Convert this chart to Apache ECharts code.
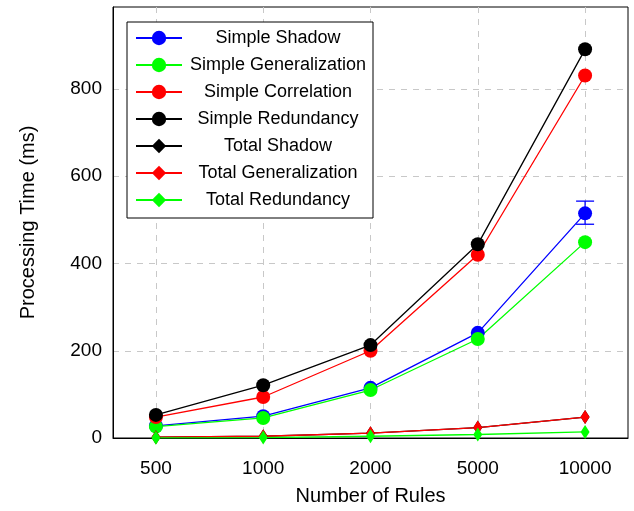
<!DOCTYPE html>
<html>
<head>
<meta charset="utf-8">
<script src="https://cdn.jsdelivr.net/npm/echarts@6/dist/echarts.min.js"></script>
<style>
  html, body { margin: 0; padding: 0; background: #fff; }
  #chart { width: 634px; height: 511px; }
</style>
</head>
<body>
<div id="chart"></div>
<script>
// categories (number of rules)
var rules = ['500', '1000', '2000', '5000', '10000'];

// processing time (ms)
var simpleShadow = [28, 50, 115, 241, 515];
var simpleGeneralization = [26, 46, 110, 227, 449];
var simpleCorrelation = [48, 94, 200, 420, 831];
var simpleRedundancy = [53, 121, 213, 444, 891];
var totalShadow = [2, 4, 11, 24, 48];
var totalGeneralization = [2, 4, 11, 24, 48];
var totalRedundancy = [0.5, 1, 4, 8, 14];

// error bar on Simple Shadow at 10000: [index, low, high]
var shadowErr = [[4, 490, 543]];

function pts(arr) {
    return arr.map(function (v, i) { return [i, v]; });
}

function lineSeries(name, arr, color, symbol, size) {
    return {
        name: name,
        type: 'line',
        data: pts(arr),
        symbol: symbol,
        symbolSize: size,
        showSymbol: true,
        lineStyle: { color: color, width: 1.3 },
        itemStyle: { color: color },
        emphasis: { disabled: true },
        animation: false
    };
}

var chart = echarts.init(document.getElementById('chart'));

var option = {
    animation: false,
    grid: {
        left: 113, right: 6, top: 7, bottom: 73,
        outerBoundsMode: 'none',
        show: true, borderColor: '#000', borderWidth: 1
    },
    legend: {
        data: ['Simple Shadow', 'Simple Generalization', 'Simple Correlation', 'Simple Redundancy',
               'Total Shadow', 'Total Generalization', 'Total Redundancy'],
        orient: 'vertical',
        left: 127, top: 22,
        itemWidth: 46, itemHeight: 18,
        itemGap: 9,
        padding: [7, 4, 9, 8],
        borderColor: '#000', borderWidth: 1,
        backgroundColor: '#fff',
        formatter: function (name) { return '{t|' + name + '}'; },
        textStyle: {
            rich: {
                t: {
                    fontFamily: 'Liberation Sans', fontSize: 18, color: '#000',
                    width: 182, align: 'center', lineHeight: 21
                }
            }
        }
    },
    xAxis: {
        type: 'value',
        min: -0.4, max: 4.4,
        name: 'Number of Rules',
        nameLocation: 'middle',
        nameGap: 48,
        nameTextStyle: { fontFamily: 'Liberation Sans', fontSize: 20, color: '#000' },
        axisLine: { onZero: false, lineStyle: { color: '#000', width: 1 } },
        axisTick: { show: false },
        axisLabel: {
            fontFamily: 'Liberation Sans', fontSize: 19, color: '#000', margin: 21,
            formatter: function (v) {
                return Number.isInteger(v) ? rules[v] : '';
            }
        },
        splitLine: {
            show: true, showMinLine: false, showMaxLine: false,
            lineStyle: { color: '#c8c8c8', type: [6, 6], width: 1 }
        }
    },
    yAxis: {
        type: 'value',
        min: 0, max: 988, interval: 200,
        name: 'Processing Time (ms)',
        nameLocation: 'middle',
        nameGap: 75,
        nameTextStyle: { fontFamily: 'Liberation Sans', fontSize: 20, color: '#000' },
        axisLine: { show: true, onZero: false, lineStyle: { color: '#000', width: 1 } },
        axisTick: { show: false },
        axisLabel: {
            fontFamily: 'Liberation Sans', fontSize: 19, color: '#000', margin: 11,
            showMaxLabel: false
        },
        splitLine: {
            show: true, showMinLine: false, showMaxLine: false,
            lineStyle: { color: '#c8c8c8', type: [6, 6], width: 1 }
        }
    },
    series: [
        lineSeries('Simple Shadow', simpleShadow, '#0000ff', 'circle', 14),
        {
            name: 'Shadow error',
            type: 'custom',
            data: shadowErr,
            animation: false,
            renderItem: function (params, api) {
                var x = api.value(0);
                var lo = api.coord([x, api.value(1)]);
                var hi = api.coord([x, api.value(2)]);
                var w = 9;
                var st = { stroke: '#0000ff', lineWidth: 1.3 };
                return {
                    type: 'group',
                    children: [
                        { type: 'line', shape: { x1: lo[0], y1: lo[1], x2: hi[0], y2: hi[1] }, style: st },
                        { type: 'line', shape: { x1: lo[0] - w, y1: lo[1], x2: lo[0] + w, y2: lo[1] }, style: st },
                        { type: 'line', shape: { x1: hi[0] - w, y1: hi[1], x2: hi[0] + w, y2: hi[1] }, style: st }
                    ]
                };
            }
        },
        lineSeries('Simple Generalization', simpleGeneralization, '#00ff00', 'circle', 14),
        lineSeries('Simple Correlation', simpleCorrelation, '#ff0000', 'circle', 14),
        lineSeries('Simple Redundancy', simpleRedundancy, '#000000', 'circle', 14),
        lineSeries('Total Shadow', totalShadow, '#000000', 'diamond', [9, 14]),
        lineSeries('Total Generalization', totalGeneralization, '#ff0000', 'diamond', [9, 14]),
        lineSeries('Total Redundancy', totalRedundancy, '#00ff00', 'diamond', [9, 14])
    ]
};

chart.setOption(option);
</script>
</body>
</html>
